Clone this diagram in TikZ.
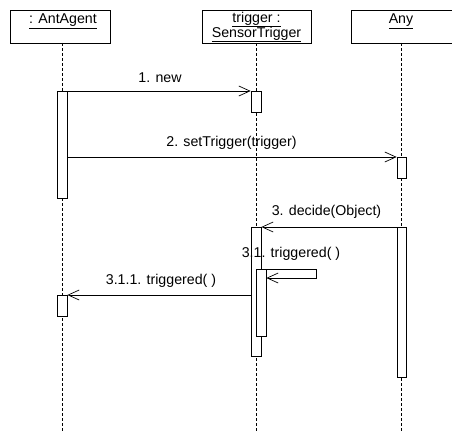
\documentclass[tikz,border=0pt]{standalone}
\usepackage{fontspec}
\setmainfont{Liberation Sans}
\usetikzlibrary{arrows.meta}
\newcommand{\ulbold}[1]{\setlength{\fboxrule}{0pt}\underline{#1}}
\begin{document}
\begin{tikzpicture}[x=1pt,y=-1pt,
  obj/.style={draw,line width=0.8pt,rectangle,inner sep=0pt,align=center},
  act/.style={draw,line width=0.7pt,fill=white,rectangle,inner sep=0pt,minimum width=10pt},
  life/.style={line width=0.7pt,dash pattern=on 3pt off 2pt},
  msg/.style={line width=0.6pt,-{Straight Barb[length=11pt,width=10pt,line width=0.7pt]}},
  lbl/.style={font=\fontsize{14.2}{15}\selectfont,inner sep=0pt}]
\useasboundingbox (0,0) rectangle (452,433);
\begin{scope}
\clip (0,0) rectangle (452,433);
% objects
\node[obj,minimum width=100pt,minimum height=33pt] (ant) at (60,26.5) {};
\node[lbl] (antt) at (63,21) {\underline{: AntAgent}};
\node[obj,minimum width=109pt,minimum height=33pt] (trg) at (256.5,26.5) {};
\node[lbl,align=center] (trgt) at (256.5,27) {\underline{trigger :}\\[-1.5pt]\underline{SensorTrigger}};
\node[obj,minimum width=106pt,minimum height=33pt] (any) at (404,26.5) {};
\node[lbl] (anyt) at (401,21) {\underline{Any}};
% lifeline ends
\coordinate (antend) at (62,433);
\coordinate (trgend) at (256,433);
\coordinate (anyend) at (401,433);
\draw[life] (62,43) -- (antend);
\draw[life] (256,43) -- (trgend);
\draw[life] (401,43) -- (anyend);
% activations
\node[act,minimum height=107pt,anchor=north] (a1) at (62,91) {};
\node[act,minimum height=21pt,anchor=north] (t1) at (256,91) {};
\node[act,minimum height=21pt,minimum width=9pt,anchor=north] (y1) at (401.5,157) {};
\node[act,minimum height=129pt,anchor=north] (t2) at (256,227) {};
\node[act,minimum height=150pt,minimum width=9pt,anchor=north] (y2) at (401.5,227) {};
\node[act,minimum height=67pt,anchor=north] (t3) at (261,269) {};
\node[act,minimum height=21pt,anchor=north] (a2) at (62,295) {};
% messages
\draw[msg] (a1.north east) -- (t1.north west);
\node[lbl] (m1) at (160,78) {1. new};
\draw[msg] (a1.east |- y1.north) -- (y1.north west);
\node[lbl] (m2) at (231.5,143) {2. setTrigger(trigger)};
\draw[msg] (y2.north east) -- (t2.north east);
\node[lbl] (m3) at (326.5,212) {3. decide(Object)};
\coordinate (s1) at (316,269);
\coordinate (s2) at (316,278);
\draw[msg] (t3.north east) -- (s1) -- (s2) -- (t3.east |- s2);
\node[lbl] (m31) at (291,254) {3.1. triggered( )};
\draw[msg] (t2.west |- a2.north) -- (a2.north east);
\node[lbl] (m311) at (161,281) {3.1.1. triggered( )};
\end{scope}
\end{tikzpicture}
\end{document}
